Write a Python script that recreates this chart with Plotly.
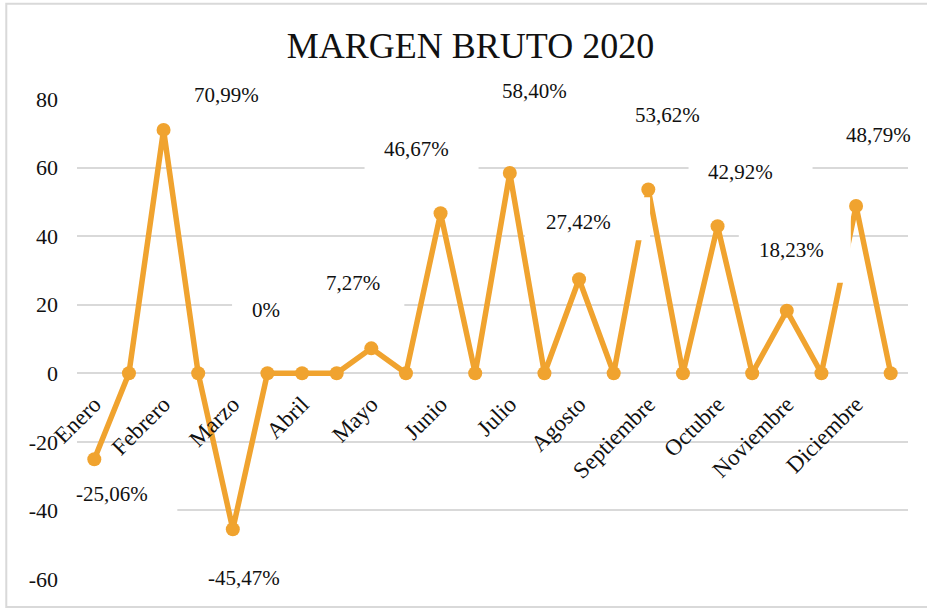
import plotly.graph_objects as go

# ---- data ----
months = ["Enero", "Febrero", "Marzo", "Abril", "Mayo", "Junio", "Julio",
          "Agosto", "Septiembre", "Octubre", "Noviembre", "Diciembre"]
margin_values = [-25.06, 0, 70.99, 0, -45.47, 0, 0, 0, 7.27, 0, 46.67, 0,
                 58.40, 0, 27.42, 0, 53.62, 0, 42.92, 0, 18.23, 0, 48.79, 0]
month_positions = list(range(0, 24, 2))
label_texts = ["-25,06%", "70,99%", "-45,47%", "0%", "7,27%", "46,67%",
               "58,40%", "27,42%", "53,62%", "42,92%", "18,23%", "48,79%"]
y_ticks = [-60, -40, -20, 0, 20, 40, 60, 80]
y_tick_text = ["-60", "-40", "-20", "0", "20", "40", "60", "80"]

# ---- layout tweaks for labels (pixel offsets: text centre, white box) ----
label_shift = [(18, -35), (63, 35), (11, -49), (-36, 63), (-18, 65), (-24, 64),
               (25, 82), (-1, 57), (19, 74), (23, 54), (5, 61), (22, 71)]
# box: (left, right, top, bottom) pixels relative to the point, y upward
label_box = [(-38, 83, -13, -57), (10, 130, 56, 13), (-44, 75, -27, -71),
             (-70, 50, 85, 41), (-65, 33, 88, 40), (-76, 38, 86, 42),
             (-27, 87, 104, 60), (-54, 71, 82, 39), (-33, 91, 97, 52),
             (-29, 95, 76, 32), (-48, 64, 96, 28), (-30, 94, 93, 49)]

ORANGE = "#F0A32F"
GRID = "#D9D9D9"
FONT = "Liberation Serif, Times New Roman, serif"
TXT = "#111111"

fig = go.Figure()
fig.add_trace(go.Scatter(
    x=list(range(len(margin_values))), y=margin_values,
    mode="lines+markers",
    line=dict(color=ORANGE, width=5.5),
    marker=dict(color=ORANGE, size=14),
    showlegend=False, hoverinfo="skip", cliponaxis=False,
))

shapes = []
annotations = []
for k, pos in enumerate(month_positions):
    val = margin_values[pos]
    l, r, t, b = label_box[k]
    shapes.append(dict(type="rect", xref="x", yref="y",
                       xsizemode="pixel", ysizemode="pixel",
                       xanchor=pos, yanchor=val,
                       x0=l, x1=r, y0=b, y1=t,
                       fillcolor="white", line=dict(width=0), layer="above"))
    dx, dy = label_shift[k]
    annotations.append(dict(x=pos, y=val, xref="x", yref="y",
                            text=label_texts[k], showarrow=False,
                            xshift=dx, yshift=dy,
                            font=dict(family=FONT, size=21, color=TXT)))

# outer chart border
shapes.append(dict(type="rect", xref="paper", yref="paper",
                   x0=-0.0851, x1=1.05, y0=-0.0585, y1=1.1985,
                   line=dict(color=GRID, width=2), fillcolor="rgba(0,0,0,0)",
                   layer="below"))

fig.update_layout(
    width=927, height=609,
    margin=dict(l=77, r=19, t=99, b=30),
    paper_bgcolor="white", plot_bgcolor="white",
    title=dict(text="MARGEN BRUTO 2020", x=0.5076, xanchor="center",
               y=1 - 45 / 609, yanchor="middle",
               font=dict(family=FONT, size=36, color=TXT)),
    xaxis=dict(range=[-0.5, 23.5], tickmode="array",
               tickvals=month_positions, ticktext=months,
               tickangle=-45, showgrid=False, zeroline=False, showline=False,
               ticks="", anchor="free", position=60 / 140,
               ticklabelstandoff=12,
               tickfont=dict(family=FONT, size=23, color=TXT)),
    yaxis=dict(range=[-60, 80], tickmode="array", tickvals=y_ticks,
               ticktext=y_tick_text,
               showgrid=True, gridcolor=GRID, gridwidth=1.5,
               zeroline=False, showline=False, ticks="",
               ticklabelstandoff=18,
               tickfont=dict(family=FONT, size=22, color=TXT)),
    shapes=shapes, annotations=annotations,
)

fig.write_html("out.html",
               config={"displayModeBar": False},
               post_script="document.body.style.margin='0';"
                           "document.body.style.overflow='hidden';")
